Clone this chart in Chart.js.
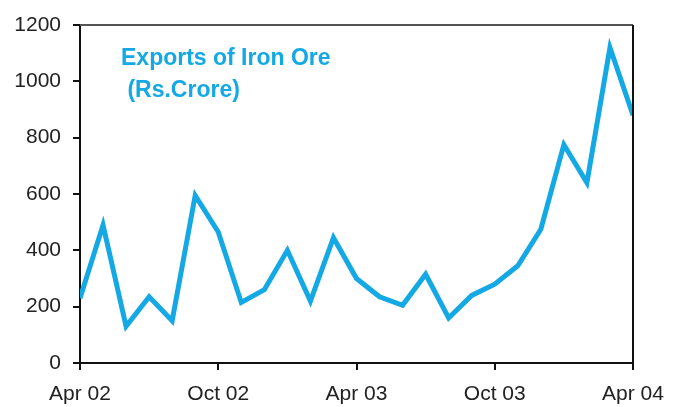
<!DOCTYPE html>
<html>
<head>
<meta charset="utf-8">
<script src="https://cdn.jsdelivr.net/npm/chart.js@4/dist/chart.umd.min.js"></script>
<style>
  html, body { margin: 0; padding: 0; background: #fff; }
  #wrap { width: 680px; height: 407px; position: relative; }
</style>
</head>
<body>
<div id="wrap"><canvas id="ironChart" width="680" height="407"></canvas></div>
<script>
// monthly exports, Apr 02 .. Apr 04
const months = [0, 1, 2, 3, 4, 5, 6, 7, 8, 9, 10, 11, 12, 13, 14, 15, 16, 17, 18, 19, 20, 21, 22, 23, 24];
const exportsRsCrore = [230, 490, 130, 235, 150, 595, 465, 215, 260, 400, 220, 445, 300, 235, 205, 315, 160, 240, 280, 345, 475, 775, 640, 1120, 880];
const tickLabels = { 0: "Apr 02", 6: "Oct 02", 12: "Apr 03", 18: "Oct 03", 24: "Apr 04" };
const titleLines = ["Exports of Iron Ore", " (Rs.Crore)"];

const blue = "#14a8e4";
const tickFont = { family: "Liberation Sans, Arial, sans-serif", size: 21 };

// frame on top/right plus the inset title
const framePlugin = {
  id: "frame",
  afterDraw(chart) {
    const { ctx, chartArea: a } = chart;
    ctx.save();
    ctx.strokeStyle = "#555";
    ctx.lineWidth = 2;
    ctx.beginPath();
    ctx.moveTo(a.left, a.top);
    ctx.lineTo(a.right, a.top);
    ctx.stroke();
    ctx.strokeStyle = "#111";
    ctx.beginPath();
    ctx.moveTo(a.right, a.top);
    ctx.lineTo(a.right, a.bottom);
    ctx.stroke();

    ctx.fillStyle = blue;
    ctx.font = "bold 23px Liberation Sans, Arial, sans-serif";
    ctx.textBaseline = "middle";
    ctx.fillText(titleLines[0], 121, 59);
    ctx.fillText(titleLines[1], 121, 91);
    ctx.restore();
  }
};

new Chart(document.getElementById("ironChart").getContext("2d"), {
  type: "line",
  data: {
    datasets: [{
      data: months.map((m, i) => ({ x: m, y: exportsRsCrore[i] })),
      borderColor: blue,
      borderWidth: 5,
      pointRadius: 0,
      tension: 0,
      fill: false
    }]
  },
  options: {
    responsive: false,
    animation: false,
    layout: { padding: { top: 25, right: 47, left: 0, bottom: 0 } },
    plugins: { legend: { display: false }, tooltip: { enabled: false } },
    scales: {
      x: {
        type: "linear",
        min: 0,
        max: 24,
        afterFit: s => { s.height = 44; },
        ticks: {
          stepSize: 6,
          color: "#222",
          font: tickFont,
          padding: 12,
          maxRotation: 0,
          callback: v => tickLabels[v] || ""
        },
        grid: { drawOnChartArea: false, drawTicks: true, tickLength: 7, color: "#111", lineWidth: 2 },
        border: { color: "#111", width: 2 }
      },
      y: {
        min: 0,
        max: 1200,
        afterFit: s => { s.width = 80; },
        ticks: { stepSize: 200, color: "#222", font: tickFont, padding: 12, callback: v => String(v) },
        grid: { drawOnChartArea: false, drawTicks: true, tickLength: 7, color: "#111", lineWidth: 2 },
        border: { color: "#111", width: 2 }
      }
    }
  },
  plugins: [framePlugin]
});
</script>
</body>
</html>
